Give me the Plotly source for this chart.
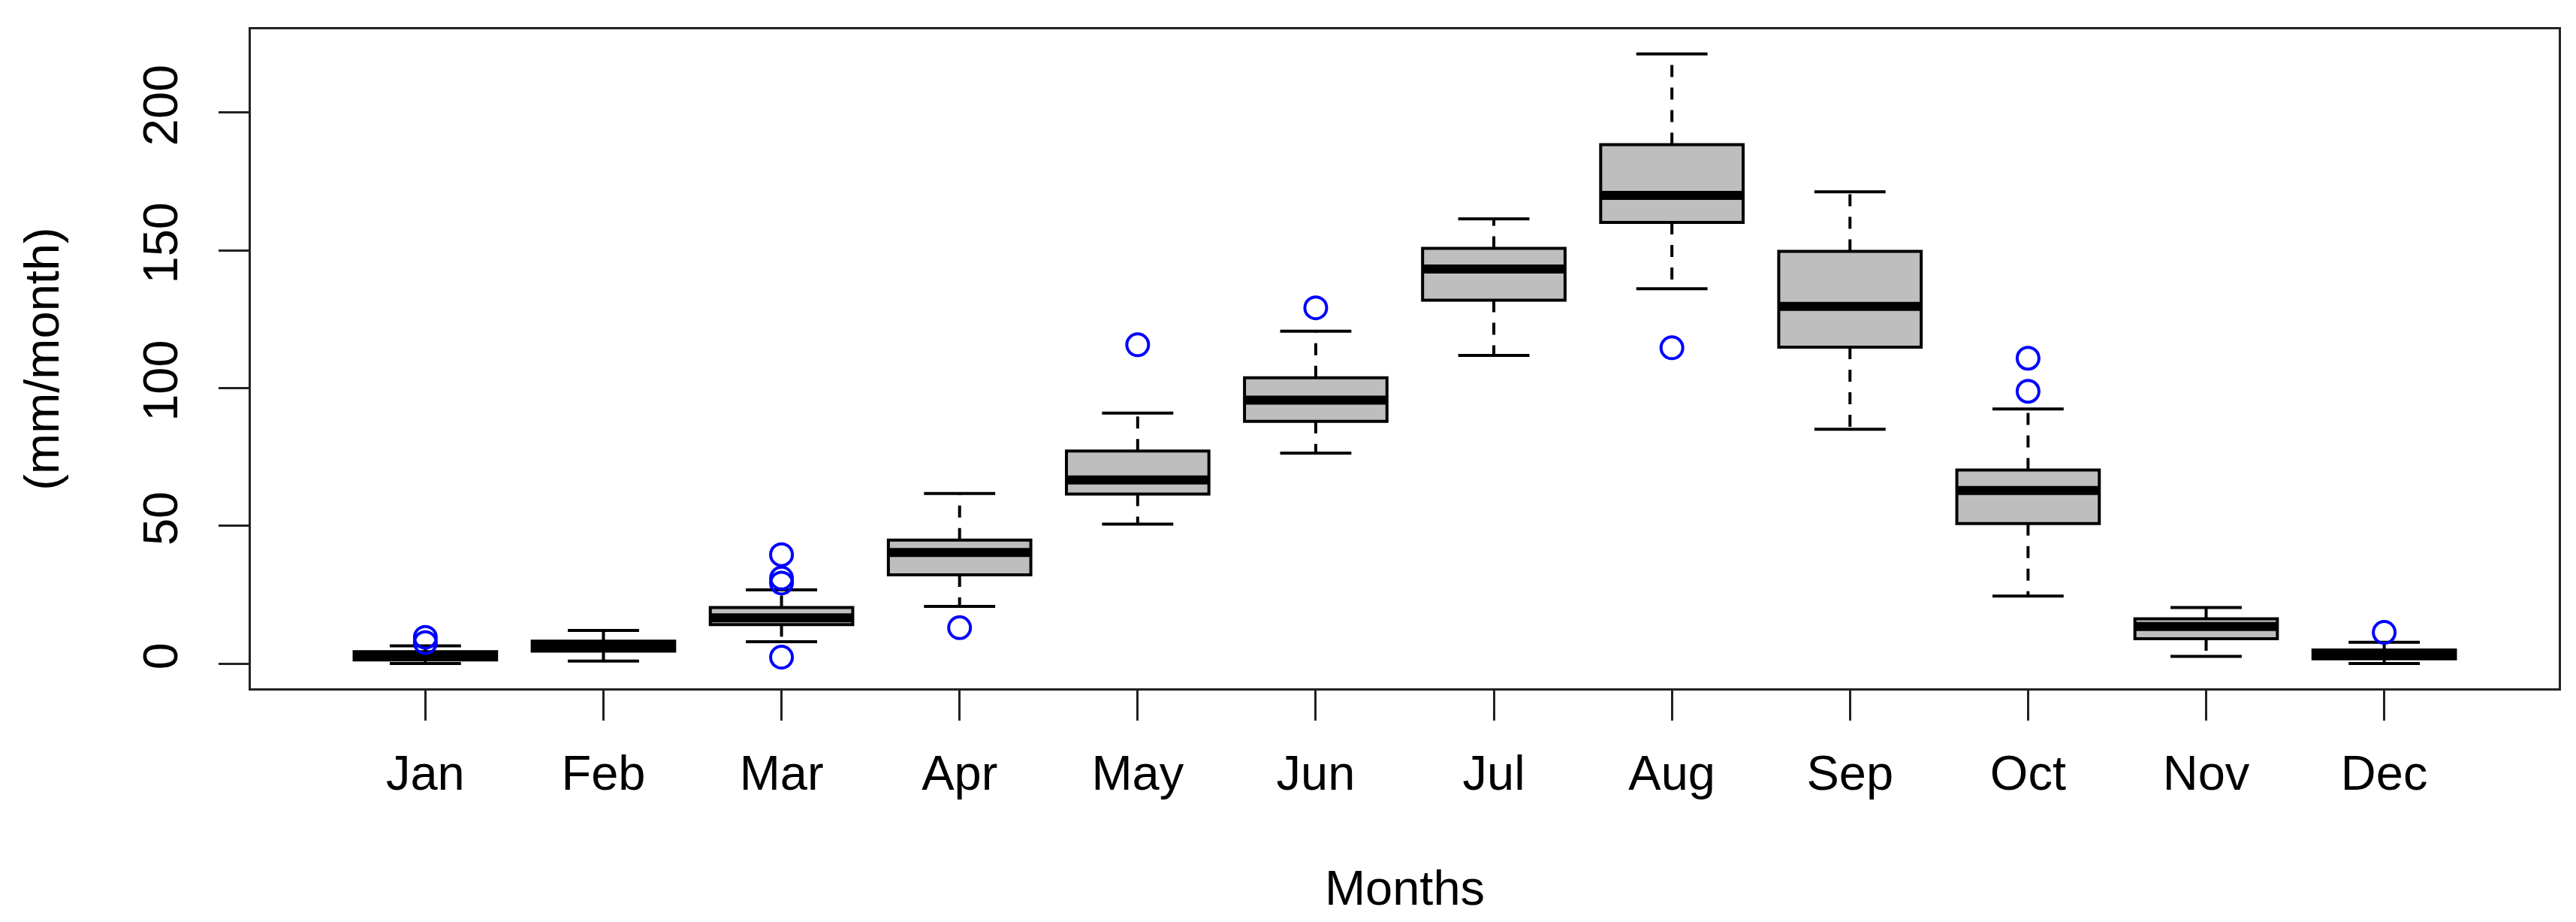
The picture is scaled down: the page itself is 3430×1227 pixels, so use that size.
import plotly.graph_objects as go

# monthly precipitation box statistics (mm/month)
months = ["Jan", "Feb", "Mar", "Apr", "May", "Jun", "Jul", "Aug", "Sep", "Oct", "Nov", "Dec"]
lower_whisker = [0.0, 0.9, 7.9, 20.7, 50.6, 76.4, 111.8, 136.0, 85.0, 24.5, 2.6, 0.0]
q1 = [1.3, 4.5, 14.1, 32.2, 61.5, 87.9, 131.9, 160.1, 114.8, 50.8, 9.0, 1.7]
median = [2.8, 6.2, 16.6, 40.3, 66.6, 95.6, 143.2, 169.9, 129.6, 62.8, 13.4, 3.4]
q3 = [4.3, 8.1, 20.3, 44.8, 77.1, 103.7, 150.7, 188.3, 149.6, 70.2, 16.2, 4.9]
upper_whisker = [6.4, 12.0, 26.7, 61.7, 90.9, 120.6, 161.4, 221.3, 171.2, 92.4, 20.3, 7.7]

# outliers: month index (1-based) and value
outlier_month = [1, 1, 3, 3, 3, 3, 4, 5, 6, 8, 10, 10, 12]
outlier_value = [9.5, 7.6, 39.5, 31.0, 29.2, 2.3, 13.0, 115.7, 129.1, 114.6, 110.8, 98.8, 11.3]

pos = list(range(1, len(months) + 1))
box_w = 0.8
cap_w = 0.4

FONT = "Liberation Sans, Arial, sans-serif"

fig = go.Figure()

# boxes (fences collapsed onto the box, whiskers drawn separately as dashed lines)
fig.add_trace(go.Box(
    x=pos, q1=q1, median=median, q3=q3,
    lowerfence=q1, upperfence=q3,
    width=box_w, whiskerwidth=0,
    fillcolor="#BEBEBE",
    line=dict(color="black", width=4),
    boxpoints=False, hoverinfo="skip",
))

# dashed whiskers
wx, wy = [], []
for i, p in enumerate(pos):
    wx += [p, p, None, p, p, None]
    wy += [q3[i], upper_whisker[i], None, q1[i], lower_whisker[i], None]
fig.add_trace(go.Scatter(x=wx, y=wy, mode="lines",
                         line=dict(color="black", width=4, dash="16px,14px"),
                         hoverinfo="skip"))

# whisker caps
cx, cy = [], []
for i, p in enumerate(pos):
    cx += [p - cap_w / 2, p + cap_w / 2, None, p - cap_w / 2, p + cap_w / 2, None]
    cy += [upper_whisker[i], upper_whisker[i], None, lower_whisker[i], lower_whisker[i], None]
fig.add_trace(go.Scatter(x=cx, y=cy, mode="lines",
                         line=dict(color="black", width=4), hoverinfo="skip"))

# thick medians
mx, my = [], []
for i, p in enumerate(pos):
    mx += [p - box_w / 2, p + box_w / 2, None]
    my += [median[i], median[i], None]
fig.add_trace(go.Scatter(x=mx, y=my, mode="lines",
                         line=dict(color="black", width=12), hoverinfo="skip"))

# outliers
fig.add_trace(go.Scatter(x=outlier_month, y=outlier_value, mode="markers",
                         marker=dict(symbol="circle-open", size=29, color="#0000FF",
                                     line=dict(width=4, color="#0000FF")),
                         hoverinfo="skip"))

axis_common = dict(
    showline=True, mirror=True, linecolor="#222222", linewidth=3,
    ticks="outside", ticklen=40, tickwidth=3, tickcolor="#222222",
    showgrid=False, zeroline=False,
    tickfont=dict(family=FONT, size=65, color="black"),
)

fig.update_xaxes(
    range=[0.02, 12.98], tickvals=pos, ticktext=months,
    ticklabelstandoff=14,
    title=dict(text="Months", font=dict(family=FONT, size=65, color="black"), standoff=95),
    **axis_common,
)
fig.update_yaxes(
    range=[-9.0, 230.2], tickvals=[0, 50, 100, 150, 200], tickangle=-90,
    ticklabelstandoff=29,
    title=dict(text="(mm/month)", font=dict(family=FONT, size=65, color="black"), standoff=78),
    **axis_common,
)

fig.update_layout(
    width=3430, height=1227,
    margin=dict(l=326, r=31, t=31, b=319),
    plot_bgcolor="white", paper_bgcolor="white",
    showlegend=False,
    font=dict(family=FONT, color="black"),
)

fig.write_html("out.html")
